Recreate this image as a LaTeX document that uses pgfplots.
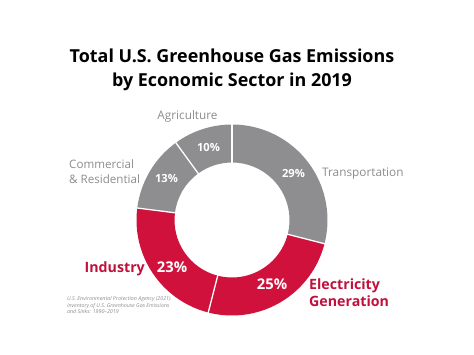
\documentclass[border=0pt]{standalone}
\usepackage{pgfplots}
\usepackage{pgfplotstable}
\pgfplotsset{compat=1.18}
\usepackage{fontspec}
\setmainfont{Open Sans}
\definecolor{donutgray}{RGB}{142,142,144}
\definecolor{donutred}{RGB}{208,17,60}
\definecolor{labelred}{RGB}{192,16,60}
\definecolor{labelgray}{RGB}{140,140,140}

\pgfplotstableread{
pct fillc
29 donutgray
25 donutred
23 donutred
13 donutgray
10 donutgray
}\sectors

\begin{document}
\begin{tikzpicture}
\begin{axis}[
  width=474pt, height=355pt, scale only axis,
  xmin=0, xmax=474, ymin=0, ymax=355,
  hide axis, clip=false,
]
\path (axis cs:0,0) rectangle (axis cs:474,355);
\def\cx{232}\def\cy{135}
\def\Ro{95.5}\def\Ri{57.5}
\def\startang{90}
\pgfplotsforeachungrouped \i in {0,...,4}{%
  \pgfplotstablegetelem{\i}{pct}\of\sectors \let\p\pgfplotsretval
  \pgfplotstablegetelem{\i}{fillc}\of\sectors \let\c\pgfplotsretval
  \pgfmathsetmacro\endang{\startang-3.6*\p}%
  \pgfmathsetmacro\xa{\cx+\Ro*cos(\startang)}%
  \pgfmathsetmacro\ya{\cy+\Ro*sin(\startang)}%
  \pgfmathsetmacro\xb{\cx+\Ri*cos(\endang)}%
  \pgfmathsetmacro\yb{\cy+\Ri*sin(\endang)}%
  \edef\tmp{\noexpand\fill[\c] (axis cs:\xa,\ya) arc[start angle=\startang, end angle=\endang, radius=\Ro pt] -- (axis cs:\xb,\yb) arc[start angle=\endang, end angle=\startang, radius=\Ri pt] -- cycle;}%
  \tmp
  \let\startang\endang
}
% white separators
\def\startang{90}
\pgfplotsforeachungrouped \i in {0,...,4}{%
  \pgfplotstablegetelem{\i}{pct}\of\sectors \let\p\pgfplotsretval
  \pgfmathsetmacro\xa{\cx+(\Ro+1)*cos(\startang)}%
  \pgfmathsetmacro\ya{\cy+(\Ro+1)*sin(\startang)}%
  \pgfmathsetmacro\xb{\cx+(\Ri-1)*cos(\startang)}%
  \pgfmathsetmacro\yb{\cy+(\Ri-1)*sin(\startang)}%
  \edef\tmp{\noexpand\draw[white, line width=1.3pt] (axis cs:\xa,\ya) -- (axis cs:\xb,\yb);}%
  \tmp
  \pgfmathsetmacro\startang{\startang-3.6*\p}%
}
% title
\node[anchor=base, font=\bfseries\fontsize{17.9}{21}\selectfont, inner sep=0] at (axis cs:232,292) {Total U.S. Greenhouse Gas Emissions};
\node[anchor=base, font=\bfseries\fontsize{17.9}{21}\selectfont, inner sep=0] at (axis cs:232,268) {by Economic Sector in 2019};
% gray labels
\node[anchor=base, text=labelgray, font=\fontsize{11.8}{13}\selectfont, inner sep=0] at (axis cs:187.5,235) {Agriculture};
\node[anchor=base west, text=labelgray, font=\fontsize{11.6}{13}\selectfont, inner sep=0] at (axis cs:69,186) {Commercial};
\node[anchor=base west, text=labelgray, font=\fontsize{11.6}{13}\selectfont, inner sep=0] at (axis cs:69,171) {\& Residential};
\node[anchor=base west, text=labelgray, font=\fontsize{11.8}{13}\selectfont, inner sep=0] at (axis cs:322,178) {Transportation};
% percentages
\node[anchor=base, text=white, font=\bfseries\fontsize{11.2}{13}\selectfont, inner sep=0] at (axis cs:208.5,203) {10\%};
\node[anchor=base, text=white, font=\bfseries\fontsize{11.2}{13}\selectfont, inner sep=0] at (axis cs:166.5,172) {13\%};
\node[anchor=base, text=white, font=\bfseries\fontsize{11.2}{13}\selectfont, inner sep=0] at (axis cs:293.5,177) {29\%};
\node[anchor=base, text=white, font=\bfseries\fontsize{14.8}{18}\selectfont, inner sep=0] at (axis cs:172,82) {23\%};
\node[anchor=base, text=white, font=\bfseries\fontsize{14.8}{18}\selectfont, inner sep=0] at (axis cs:272,65) {25\%};
% red labels
\node[anchor=base east, text=labelred, font=\bfseries\fontsize{14.2}{18}\selectfont, inner sep=0] at (axis cs:145,82) {Industry};
\node[anchor=base west, text=labelred, font=\bfseries\fontsize{14.2}{18}\selectfont, inner sep=0] at (axis cs:309,65) {Electricity};
\node[anchor=base west, text=labelred, font=\bfseries\fontsize{14.2}{18}\selectfont, inner sep=0] at (axis cs:309,48) {Generation};
% source
\node[anchor=base west, text=labelgray, font=\itshape\fontsize{5.3}{6.3}\selectfont, inner sep=0] at (axis cs:67,54) {U.S. Environmental Protection Agency (2021).};
\node[anchor=base west, text=labelgray, font=\itshape\fontsize{5.3}{6.3}\selectfont, inner sep=0] at (axis cs:67,47.5) {Inventory of U.S. Greenhouse Gas Emissions};
\node[anchor=base west, text=labelgray, font=\itshape\fontsize{5.3}{6.3}\selectfont, inner sep=0] at (axis cs:67,41) {and Sinks: 1990--2019};
\end{axis}
\end{tikzpicture}
\end{document}
